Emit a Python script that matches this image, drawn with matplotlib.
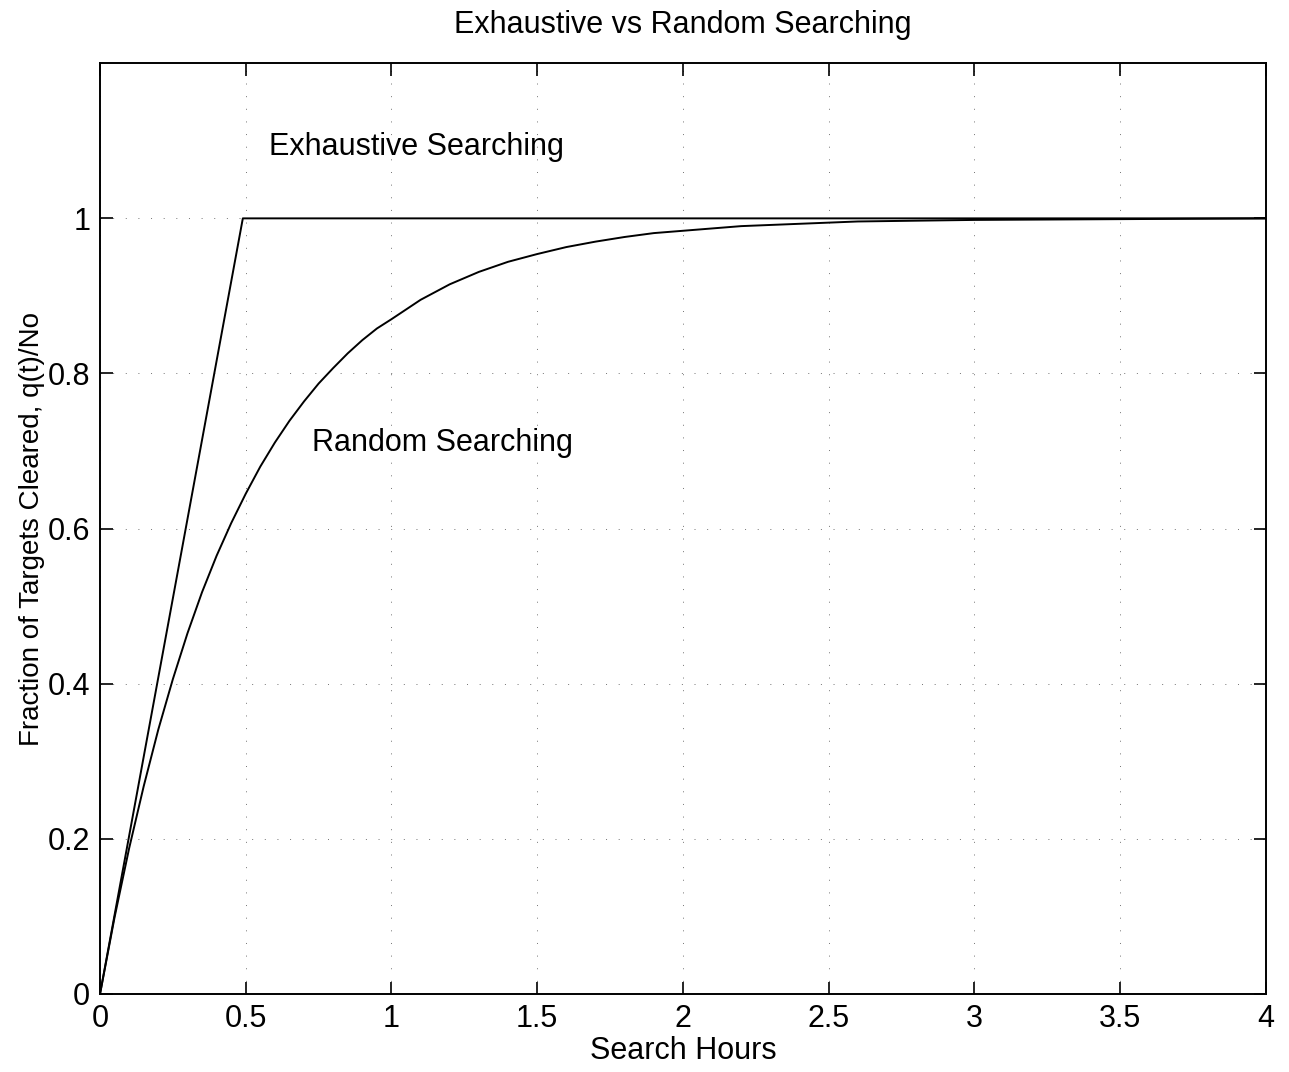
import matplotlib
matplotlib.use('Agg')
import matplotlib.pyplot as plt

plt.rcParams['font.family'] = ['Liberation Sans', 'DejaVu Sans']

# exhaustive search: straight ramp until the area is covered, then flat
t_exhaustive = [0.0, 0.49, 4.0]
q_exhaustive = [0.0, 1.0, 1.0]

# random search: fraction cleared vs hours
t_random = [0.0, 0.05, 0.1, 0.15, 0.2, 0.25, 0.3, 0.35, 0.4, 0.45, 0.5,
            0.55, 0.6, 0.65, 0.7, 0.75, 0.8, 0.85, 0.9, 0.95, 1.0,
            1.1, 1.2, 1.3, 1.4, 1.5, 1.6, 1.7, 1.8, 1.9, 2.0,
            2.2, 2.4, 2.6, 2.8, 3.0, 3.5, 4.0]
q_random = [0.0, 0.099, 0.188, 0.268, 0.341, 0.406, 0.465, 0.518, 0.565, 0.607, 0.645,
            0.680, 0.711, 0.739, 0.764, 0.787, 0.807, 0.826, 0.843, 0.858, 0.870,
            0.895, 0.915, 0.931, 0.944, 0.954, 0.963, 0.970, 0.976, 0.981, 0.984,
            0.990, 0.993, 0.996, 0.997, 0.998, 0.999, 1.0]

x_ticks = [0, 0.5, 1, 1.5, 2, 2.5, 3, 3.5, 4]
x_labels = ['0', '0.5', '1', '1.5', '2', '2.5', '3', '3.5', '4']
y_ticks = [0, 0.2, 0.4, 0.6, 0.8, 1.0]
y_labels = ['0', '0.2', '0.4', '0.6', '0.8', '1']

fig = plt.figure(figsize=(12.89, 10.72), dpi=100)
ax = fig.add_axes([0.0776, 0.0728, 0.9044, 0.8682])

ax.plot(t_exhaustive, q_exhaustive, color='black', linewidth=1.4)
ax.plot(t_random, q_random, color='black', linewidth=1.4)

ax.set_xlim(0, 4)
ax.set_ylim(0, 1.2)
ax.set_xticks(x_ticks)
ax.set_xticklabels(x_labels)
ax.set_yticks(y_ticks)
ax.set_yticklabels(y_labels)

ax.grid(True, color='0.45', linewidth=0.7, linestyle=(0, (1, 12)))
ax.tick_params(direction='in', length=9, width=1.2, labelsize=22,
               top=True, right=True, pad=7)
for sp in ax.spines.values():
    sp.set_linewidth(1.4)

ax.text(0.58, 1.092, 'Exhaustive Searching', fontsize=22, va='center', ha='left')
ax.text(0.727, 0.71, 'Random Searching', fontsize=22, va='center', ha='left')

ax.set_title('Exhaustive vs Random Searching', fontsize=22, pad=22)
ax.set_xlabel('Search Hours', fontsize=22, labelpad=2)
ax.set_ylabel('Fraction of Targets Cleared, q(t)/No', fontsize=20, labelpad=2)

fig.savefig('out.png', dpi=100)
